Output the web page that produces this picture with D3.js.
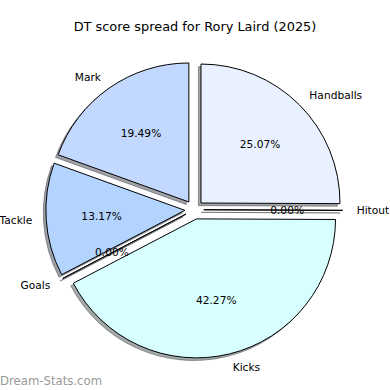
<!DOCTYPE html>
<html>
<head>
<meta charset="utf-8">
<script src="https://cdn.jsdelivr.net/npm/d3@7"></script>
<style>
  body { margin: 0; background: #fff; }
  text { font-family: "DejaVu Sans", sans-serif; }
</style>
</head>
<body>
<div id="chart"></div>
<script>
// DT score breakdown, in pie order (clockwise from 12 o'clock)
const categories = ["Handballs", "Hitout", "Kicks", "Goals", "Tackle", "Mark"];
const shares = [25.07, 0, 42.27, 0, 13.17, 19.49];
const title = "DT score spread for Rory Laird (2025)";

const width = 390, height = 390;
const cx = 194.3, cy = 209.7, radius = 139;
const explode = 0.068 * radius;

const colour = d3.scaleOrdinal()
  .domain(categories)
  .range(["#e9f0ff", "#e9f0ff", "#d8ffff", "#b3d4ff", "#b3d4ff", "#c3d8ff"]);

const svg = d3.select("#chart")
  .append("svg")
  .attr("width", width)
  .attr("height", height);

svg.append("text")
  .attr("x", 195)
  .attr("y", 30.5)
  .attr("text-anchor", "middle")
  .style("font-size", "12.9px")
  .text(title);

const data = categories.map((c, i) => ({ name: c, value: shares[i] }));
const total = d3.sum(shares);

const pie = d3.pie().sort(null).value((d) => d.value);
const arcs = pie(data);
const arc = d3.arc().innerRadius(0).outerRadius(radius);

const g = svg.append("g").attr("transform", `translate(${cx},${cy})`);

// direction unit vector for a wedge
const dir = (d) => {
  const a = (d.startAngle + d.endAngle) / 2;
  return [Math.sin(a), -Math.cos(a)];
};

// Shadows first, below every wedge
g.selectAll(".shadow")
  .data(arcs)
  .enter()
  .append("path")
  .attr("class", "shadow")
  .attr("transform", (d) => {
    const [ux, uy] = dir(d);
    return `translate(${ux * explode - 2.6},${uy * explode + 2.6})`;
  })
  .attr("d", arc)
  .attr("fill", (d) => d3.rgb(colour(d.data.name)).darker(4))
  .attr("fill-opacity", 0.45)
  .attr("stroke", (d) => d3.rgb(colour(d.data.name)).darker(4))
  .attr("stroke-opacity", 0.45)
  .attr("stroke-width", 1);

// Wedges
g.selectAll(".wedge")
  .data(arcs)
  .enter()
  .append("path")
  .attr("class", "wedge")
  .attr("transform", (d) => {
    const [ux, uy] = dir(d);
    return `translate(${ux * explode},${uy * explode})`;
  })
  .attr("d", arc)
  .attr("fill", (d) => colour(d.data.name))
  .attr("stroke", "#000")
  .attr("stroke-width", 1)
  .attr("stroke-linejoin", "miter");

// Category labels at 1.1 r
g.selectAll(".label")
  .data(arcs)
  .enter()
  .append("text")
  .attr("class", "label")
  .attr("x", (d) => dir(d)[0] * (explode + 1.1 * radius))
  .attr("y", (d) => dir(d)[1] * (explode + 1.1 * radius))
  .attr("dy", "0.35em")
  .attr("text-anchor", (d) => (dir(d)[0] > 0 ? "start" : "end"))
  .style("font-size", "10.67px")
  .text((d) => d.data.name);

// Percent labels at 0.6 r
const fmt = d3.format(".2f");
g.selectAll(".pct")
  .data(arcs)
  .enter()
  .append("text")
  .attr("class", "pct")
  .attr("x", (d) => dir(d)[0] * (explode + 0.6 * radius))
  .attr("y", (d) => dir(d)[1] * (explode + 0.6 * radius))
  .attr("dy", "0.35em")
  .attr("text-anchor", "middle")
  .style("font-size", "10.67px")
  .text((d) => fmt((d.data.value / total) * 100) + "%");

// Watermark
svg.append("text")
  .attr("x", 0)
  .attr("y", 384.5)
  .style("font-size", "11.7px")
  .attr("fill", "#9a9a9a")
  .text("Dream-Stats.com");
</script>
</body>
</html>
